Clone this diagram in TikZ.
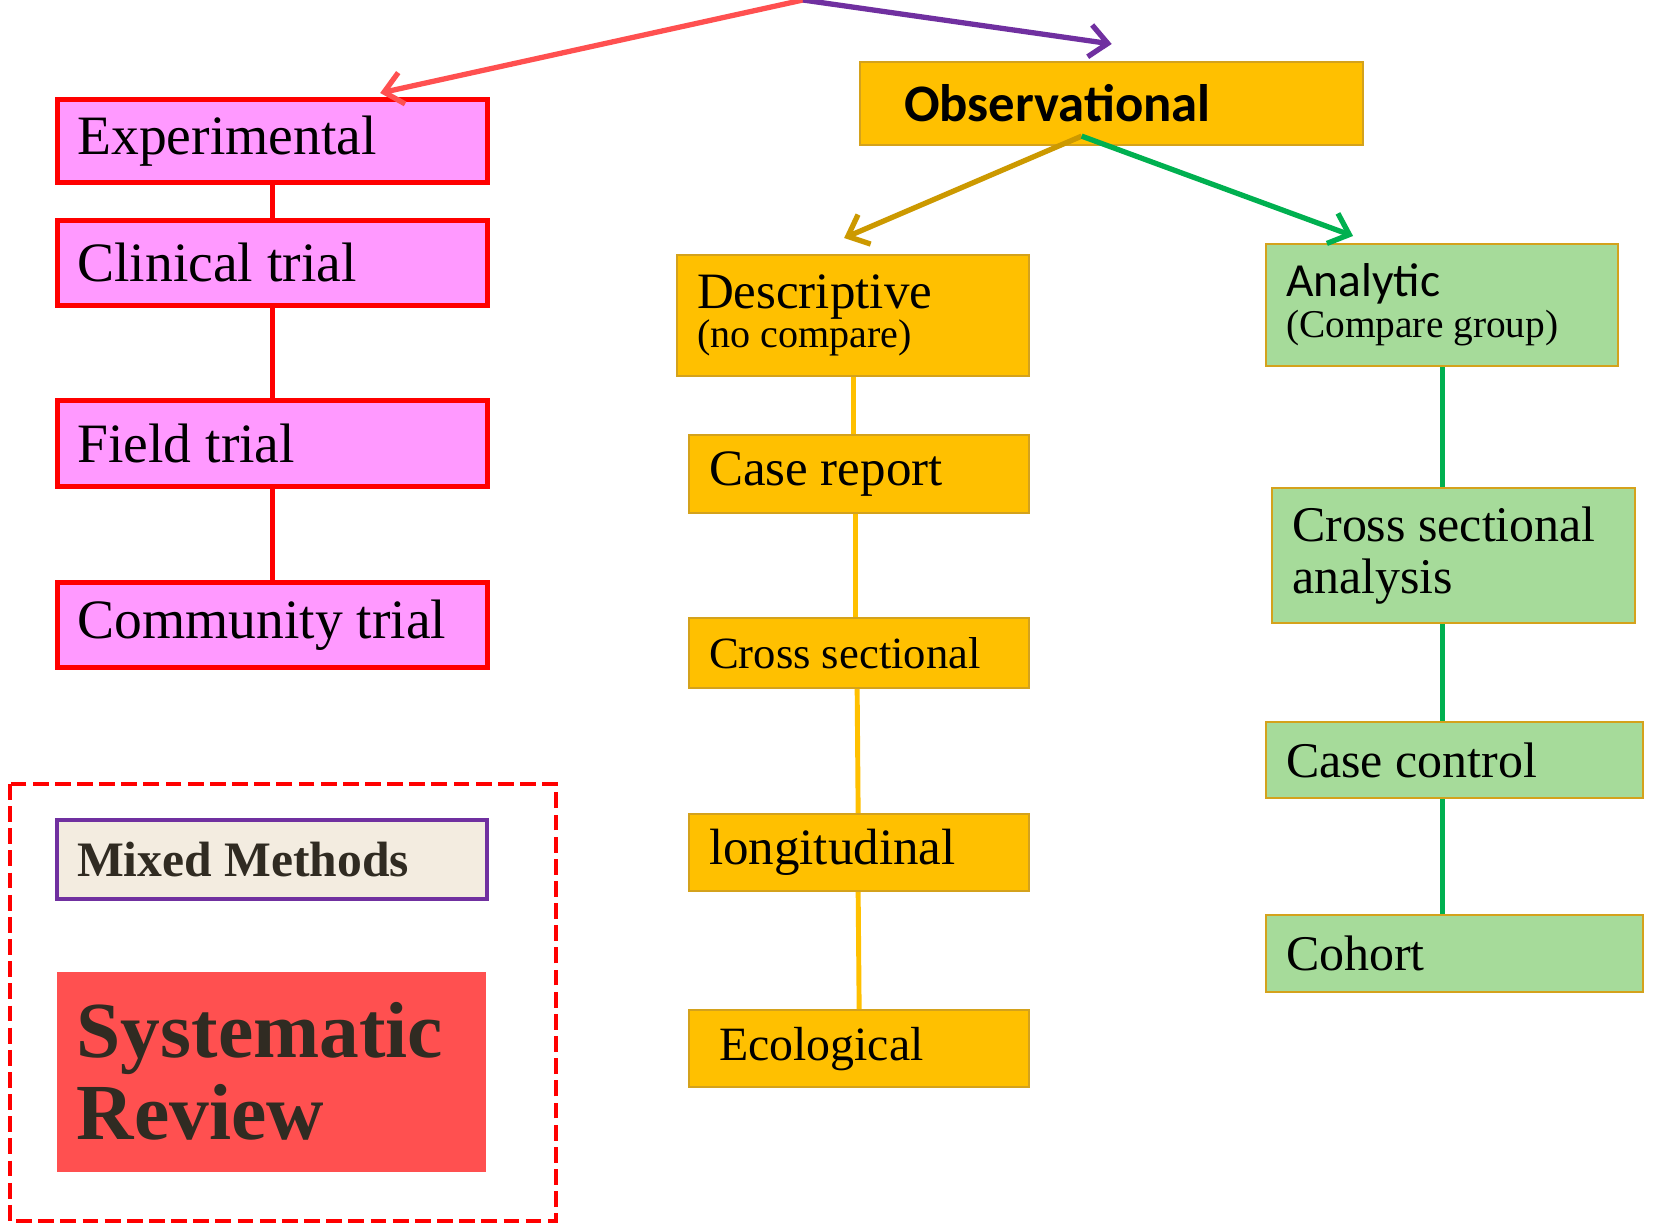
\documentclass[tikz,border=0pt]{standalone}
\usepackage{fontspec}
\setmainfont{Liberation Serif}
\newfontfamily\calib{Carlito}
\usetikzlibrary{arrows.meta}
\definecolor{rosa}{HTML}{FF99FF}
\definecolor{giallo}{HTML}{FFC000}
\definecolor{verde}{HTML}{A6DB9A}
\definecolor{bordo}{HTML}{D4A21C}
\definecolor{crema}{HTML}{F3ECE0}
\definecolor{corallo}{HTML}{FF5050}
\definecolor{scuro}{HTML}{302B22}
\definecolor{viola}{HTML}{7030A0}
\definecolor{verdelinea}{HTML}{00B050}
\definecolor{oro}{HTML}{CC9900}
\tikzset{
  sper/.style={draw=red, line width=1.4pt, fill=rosa, anchor=north west, align=flush left,
    inner xsep=0.2cm, inner ysep=0pt, font=\fontsize{15.8}{19}\selectfont},
  oss/.style={draw=bordo, line width=0.6pt, fill=giallo, anchor=north west, align=flush left,
    inner xsep=0.2cm, inner ysep=0pt, font=\fontsize{14.5}{17}\selectfont},
  ana/.style={oss, fill=verde, font=\fontsize{14.2}{14.6}\selectfont},
  misto/.style={draw=viola, line width=1.2pt, fill=crema, text=scuro, anchor=north west,
    align=flush left, inner xsep=0.2cm, inner ysep=0pt, font=\bfseries\fontsize{14.1}{17}\selectfont},
  freccia/.style={line width=1.5pt, -{Straight Barb[length=1.8mm,width=3.2mm]}},
}
\begin{document}
\begin{tikzpicture}[x=0.01cm, y=-0.01cm]
    \fill[white] (0,0) rectangle (1653,1225);
    \useasboundingbox (0,0) rectangle (1653,1225);
    %colonna sperimentale
    \node[sper, text width=3.9cm, minimum height=0.83cm] (exper) at (55,97) {Experimental};
    \node[sper, text width=3.9cm, minimum height=0.85cm] (clin) at (55,218) {Clinical trial};
    \node[sper, text width=3.9cm, minimum height=0.86cm] (field) at (55,398) {Field trial};
    \node[sper, text width=3.9cm, minimum height=0.85cm] (comm) at (55,580) {Community trial};
    \draw[red, line width=1.2pt] (exper) -- (clin);
    \draw[red, line width=1.2pt] (clin) -- (field);
    \draw[red, line width=1.2pt] (field) -- (comm);
    %riquadro tratteggiato
    \draw[red, line width=1.1pt, dash pattern=on 4.5pt off 1.8pt] (10,784) rectangle (556,1221);
    \node[misto, text width=3.9cm, minimum height=0.79cm] (mixed) at (55,818) {Mixed Methods};
    \node[fill=corallo, text=scuro, anchor=north west, align=flush left, inner xsep=0.2cm,
      inner ysep=0pt, text width=3.89cm, minimum height=2cm,
      font=\bfseries\fontsize{22.6}{23.3}\selectfont] (sysrev) at (56,971) {Systematic\\Review};
    %colonna osservazionale
    \node[oss, inner xsep=0.44cm, text width=4.15cm, minimum height=0.83cm,
      font=\calib\bfseries\fontsize{15}{18}\selectfont] (obs) at (859,61) {Observational};
    \node[oss, text width=3.12cm, minimum height=1.21cm] (desc) at (676,254)
      {Descriptive\\[-6pt]{\fontsize{11.4}{11}\selectfont (no compare)}};
    \node[oss, text width=3.0cm, minimum height=0.78cm] (caserep) at (688,434) {Case report};
    \node[oss, text width=3.0cm, minimum height=0.70cm,
      font=\fontsize{12.7}{15}\selectfont] (cross) at (688,617) {Cross sectional};
    \node[oss, text width=3.0cm, minimum height=0.77cm] (longi) at (688,813) {longitudinal};
    \node[oss, inner xsep=0.3cm, text width=2.8cm, minimum height=0.77cm,
      font=\fontsize{13.6}{16}\selectfont] (eco) at (688,1009) {Ecological};
    \draw[giallo, line width=1.4pt] (desc.south) -- (desc.south |- caserep.north);
    \draw[giallo, line width=1.4pt] ([xshift=0.02cm]desc.south |- caserep.south) -- ([xshift=0.02cm]desc.south |- cross.north);
    \draw[giallo, line width=1.4pt] ([xshift=0.04cm]desc.south |- cross.south) -- ([xshift=0.05cm]desc.south |- longi.north);
    \draw[giallo, line width=1.4pt] ([xshift=0.05cm]desc.south |- longi.south) -- ([xshift=0.06cm]desc.south |- eco.north);
    %colonna analitica
    \node[ana, text width=3.12cm, minimum height=1.22cm] (anal) at (1265,243)
      {{\calib\fontsize{13.5}{12.2}\selectfont Analytic}\\[-3pt]{\fontsize{11.2}{12.2}\selectfont (Compare group)}};
    \node[ana, text width=3.23cm, minimum height=1.35cm] (csa) at (1271,487) {Cross sectional\\analysis};
    \node[ana, text width=3.37cm, minimum height=0.76cm] (cc) at (1265,721) {Case control};
    \node[ana, text width=3.37cm, minimum height=0.77cm] (cohort) at (1265,914) {Cohort};
    \draw[verdelinea, line width=1.5pt] (anal.south) -- (anal.south |- csa.north);
    \draw[verdelinea, line width=1.5pt] (anal.south |- csa.south) -- (anal.south |- cc.north);
    \draw[verdelinea, line width=1.5pt] (anal.south |- cc.south) -- (anal.south |- cohort.north);
    %frecce
    \coordinate (cima) at (803,0);
    \draw[freccia, corallo] (cima) -- ([xshift=3.25cm,yshift=0.04cm]exper.north west);
    \draw[freccia, viola] (cima) -- ([yshift=0.17cm]obs.north);
    \draw[freccia, oro] ([xshift=-0.3cm,yshift=0.1cm]obs.south) -- ([xshift=-0.09cm,yshift=0.16cm]desc.north);
    \draw[freccia, verdelinea] ([xshift=-0.3cm,yshift=0.1cm]obs.south) -- ([xshift=0.88cm,yshift=0.07cm]anal.north west);
\end{tikzpicture}
\end{document}
